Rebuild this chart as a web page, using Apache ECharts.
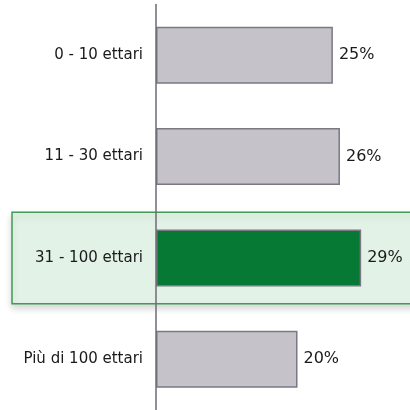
<!DOCTYPE html>
<html>
<head>
<meta charset="utf-8">
<script src="https://cdn.jsdelivr.net/npm/echarts@6/dist/echarts.min.js"></script>
<style>
  html, body { margin: 0; padding: 0; background: #ffffff; }
  #chart { width: 410px; height: 410px; }
</style>
</head>
<body>
<div id="chart"></div>
<script>
// Farm size classes and their share
const categories = ['0 - 10 ettari', '11 - 30 ettari', '31 - 100 ettari', 'Più di 100 ettari'];
const shares = [25, 26, 29, 20];
const highlighted = '31 - 100 ettari';

const GRAY = '#c5c2c9';
const GREEN = '#067a35';
const EDGE = '#7b7884';

const chart = echarts.init(document.getElementById('chart'), null, { renderer: 'canvas' });

chart.setOption({
  animation: false,
  textStyle: { fontFamily: '"DejaVu Sans", sans-serif' },
  grid: { left: 156, top: 4.5, width: 254, height: 408, containLabel: false },
  xAxis: {
    type: 'value', min: 0, max: 35.9,
    show: false
  },
  yAxis: {
    type: 'category',
    data: categories,
    inverse: true,
    z: 5,
    axisLine: { show: true, lineStyle: { color: '#6e6b75', width: 1.5 } },
    axisTick: { show: false },
    axisLabel: { color: '#1a1a1a', fontSize: 15, margin: 13 }
  },
  series: [
    {
      // highlight panel behind the selected class
      type: 'custom',
      z: 1,
      silent: true,
      data: categories.map((c, i) => c === highlighted ? [0, i] : null).filter(d => d),
      renderItem: function (params, api) {
        const p = api.coord([0, api.value(1)]);
        const band = api.size([0, 1])[1];
        const inset = 5;
        return {
          type: 'rect',
          shape: { x: 12, y: p[1] - band / 2 + inset, width: 420, height: band - inset * 2 },
          style: {
            fill: '#e3f2e6', stroke: '#3f9b57', lineWidth: 1.5,
            shadowBlur: 7, shadowOffsetY: 4, shadowColor: 'rgba(0,0,0,0.16)'
          }
        };
      },
      clip: false
    },
    {
      type: 'bar',
      z: 3,
      barWidth: 57,
      data: shares.map((v, i) => ({
        value: v,
        itemStyle: { color: categories[i] === highlighted ? GREEN : GRAY }
      })),
      itemStyle: { borderColor: EDGE, borderWidth: 1.5 },
      label: {
        show: true, position: 'right', distance: 6,
        formatter: '{c}%', color: '#1a1a1a', fontSize: 16
      }
    }
  ]
});
</script>
</body>
</html>
